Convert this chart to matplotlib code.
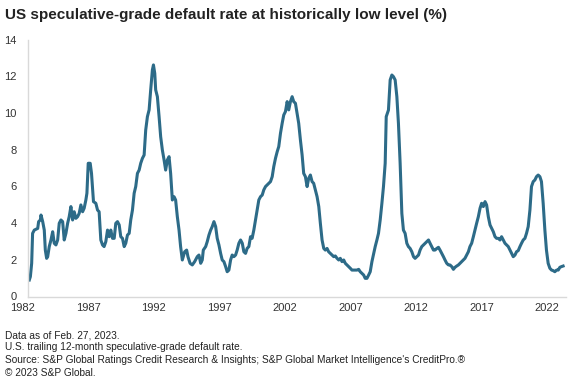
import matplotlib
matplotlib.use("Agg")
import matplotlib.pyplot as plt
from matplotlib.transforms import ScaledTranslation

plt.rcParams['font.family'] = ['Liberation Sans', 'DejaVu Sans']

years = [
    1982.10, 1982.18, 1982.28, 1982.35, 1982.48, 1982.74, 1982.81, 1982.94, 1982.99, 1983.12,
    1983.24, 1983.32, 1983.42, 1983.50, 1983.62, 1983.75, 1983.88, 1984.00, 1984.13, 1984.26,
    1984.38, 1984.51, 1984.64, 1984.76, 1984.89, 1985.02, 1985.14, 1985.27, 1985.40, 1985.52,
    1985.65, 1985.78, 1985.90, 1986.03, 1986.16, 1986.28, 1986.41, 1986.49, 1986.59, 1986.74,
    1986.84, 1986.99, 1987.17, 1987.30, 1987.42, 1987.55, 1987.68, 1987.80, 1987.93, 1988.06,
    1988.19, 1988.31, 1988.44, 1988.57, 1988.69, 1988.82, 1988.95, 1989.07, 1989.20, 1989.33,
    1989.45, 1989.58, 1989.71, 1989.83, 1989.96, 1990.09, 1990.21, 1990.34, 1990.47, 1990.59,
    1990.72, 1990.85, 1990.97, 1991.10, 1991.23, 1991.35, 1991.48, 1991.56, 1991.66, 1991.73,
    1991.86, 1991.99, 1992.11, 1992.24, 1992.37, 1992.49, 1992.62, 1992.75, 1992.87, 1993.00,
    1993.13, 1993.25, 1993.38, 1993.51, 1993.63, 1993.76,
    1993.94, 1994.09, 1994.19, 1994.35, 1994.52, 1994.70, 1994.90, 1995.03, 1995.16, 1995.28,
    1995.36, 1995.54, 1995.66, 1995.79, 1995.92, 1996.04, 1996.17, 1996.30, 1996.42, 1996.55,
    1996.68, 1996.80, 1996.93, 1997.06, 1997.18, 1997.31, 1997.44, 1997.56, 1997.69, 1997.82,
    1997.94, 1998.07, 1998.20, 1998.33, 1998.45, 1998.58, 1998.70, 1998.83, 1998.96, 1999.08,
    1999.21, 1999.34, 1999.47, 1999.59, 1999.72, 1999.85, 1999.97, 2000.10, 2000.23, 2000.35,
    2000.48, 2000.61, 2000.73, 2000.86, 2000.99, 2001.11, 2001.24, 2001.37, 2001.49, 2001.62,
    2001.75, 2001.87, 2002.00, 2002.13, 2002.25, 2002.38, 2002.51, 2002.63, 2002.76, 2002.89,
    2003.01, 2003.14, 2003.27, 2003.39, 2003.52, 2003.65, 2003.77, 2003.90, 2004.03, 2004.16,
    2004.28, 2004.41, 2004.54, 2004.66, 2004.79, 2004.91, 2005.04, 2005.17, 2005.30, 2005.42,
    2005.55, 2005.68, 2005.80, 2005.93, 2006.06, 2006.18, 2006.31, 2006.44, 2006.56, 2006.69,
    2006.82, 2007.07, 2007.20, 2007.32, 2007.45, 2007.58, 2007.70, 2007.83, 2007.96,
    2008.08, 2008.21, 2008.46, 2008.59, 2008.71, 2008.84, 2008.97, 2009.09, 2009.22, 2009.30,
    2009.47, 2009.60, 2009.73, 2009.85, 2009.98, 2010.11, 2010.23, 2010.36, 2010.49, 2010.61,
    2010.74, 2010.87, 2010.99, 2011.12, 2011.25, 2011.38, 2011.50, 2011.63, 2011.76, 2011.88,
    2012.01, 2012.14, 2012.26, 2012.39, 2012.52, 2012.64, 2012.77, 2012.90, 2013.02, 2013.15,
    2013.28, 2013.40, 2013.53, 2013.66, 2013.78, 2013.91, 2014.04, 2014.16, 2014.29, 2014.42,
    2014.54, 2014.67, 2014.80, 2014.92, 2015.05, 2015.18, 2015.30, 2015.43, 2015.56, 2015.68,
    2015.81, 2015.94, 2016.06, 2016.19, 2016.32, 2016.45, 2016.57, 2016.70, 2016.83, 2016.95,
    2017.08, 2017.21, 2017.33, 2017.46, 2017.59, 2017.71, 2017.84, 2017.97, 2018.09, 2018.22,
    2018.35, 2018.47, 2018.60, 2018.73, 2018.85, 2018.98, 2019.11, 2019.23, 2019.36, 2019.49,
    2019.61, 2019.74, 2019.87, 2019.99, 2020.12, 2020.25, 2020.37, 2020.50, 2020.63, 2020.75,
    2020.88, 2021.01, 2021.13, 2021.26, 2021.39, 2021.51, 2021.64, 2021.77, 2021.90, 2022.02,
    2022.15, 2022.28, 2022.41, 2022.53, 2022.66, 2022.78,
]

default_rate = [
    0.90, 1.08, 1.81, 3.44, 3.62, 3.71, 4.08, 4.17, 4.44, 4.08,
    3.62, 2.53, 2.08, 2.17, 2.72, 3.08, 3.53, 2.90, 2.81, 3.08,
    3.99, 4.17, 4.08, 3.08, 3.44, 3.99, 4.35, 4.90, 4.17, 4.62,
    4.26, 4.35, 4.53, 4.99, 4.62, 4.81, 5.26, 5.63, 7.26, 7.26,
    6.71, 5.17, 5.08, 4.71, 4.62, 3.08, 2.81, 2.72, 2.99, 3.62,
    3.26, 3.62, 3.17, 3.17, 3.99, 4.08, 3.90, 3.26, 3.17, 2.72,
    2.90, 3.35, 3.44, 4.17, 4.71, 5.63, 5.99, 6.71, 6.89, 7.26,
    7.53, 7.71, 9.07, 9.80, 10.17, 11.26, 12.35, 12.62, 12.16, 11.26,
    10.89, 9.80, 8.71, 7.98, 7.44, 6.89, 7.44, 7.62, 6.71, 5.26,
    5.44, 5.26, 4.35, 3.62, 2.72, 1.99,
    2.44, 2.53, 2.17, 1.81, 1.72, 1.90, 2.17, 2.26, 1.81, 1.99,
    2.53, 2.72, 2.99, 3.35, 3.62, 3.81, 4.08, 3.81, 3.17, 2.81,
    2.35, 1.99, 1.90, 1.63, 1.35, 1.44, 1.99, 2.26, 2.17, 2.26,
    2.53, 2.90, 3.08, 2.90, 2.44, 2.35, 2.62, 2.72, 3.26, 3.17,
    3.62, 4.17, 4.71, 5.26, 5.44, 5.53, 5.81, 5.99, 6.08, 6.17,
    6.26, 6.53, 7.08, 7.53, 7.89, 8.17, 8.89, 9.44, 9.89, 10.08,
    10.62, 10.17, 10.62, 10.89, 10.62, 10.53, 9.98, 9.44, 8.53, 7.71,
    6.71, 6.53, 5.99, 6.44, 6.62, 6.26, 6.17, 5.81, 5.44, 4.90,
    3.99, 3.08, 2.62, 2.53, 2.62, 2.44, 2.35, 2.26, 2.17, 2.21,
    2.08, 1.99, 2.08, 1.90, 1.99, 1.81, 1.72, 1.63, 1.54, 1.44,
    1.44, 1.44, 1.48, 1.35, 1.26, 1.17, 0.99, 0.99, 1.17,
    1.35, 1.90, 2.72, 3.08, 3.44, 4.17, 5.08, 5.99, 7.26, 9.80,
    10.16, 11.80, 12.07, 11.98, 11.80, 10.89, 9.44, 7.26, 4.53, 3.62,
    3.44, 2.90, 2.72, 2.62, 2.44, 2.17, 2.08, 2.17, 2.26, 2.53,
    2.72, 2.81, 2.90, 2.99, 3.08, 2.90, 2.72, 2.53, 2.53, 2.62,
    2.68, 2.53, 2.35, 2.17, 1.99, 1.81, 1.72, 1.72, 1.63, 1.48,
    1.59, 1.66, 1.72, 1.81, 1.90, 1.99, 2.08, 2.26, 2.44, 2.72,
    2.90, 3.26, 3.62, 3.99, 4.35, 4.81, 5.08, 4.90, 5.17, 4.99,
    4.35, 3.90, 3.72, 3.53, 3.26, 3.17, 3.17, 3.08, 3.26, 3.08,
    2.90, 2.81, 2.72, 2.53, 2.35, 2.17, 2.26, 2.44, 2.50, 2.72,
    2.90, 3.08, 3.17, 3.44, 3.81, 4.71, 5.99, 6.26, 6.35, 6.53,
    6.62, 6.53, 6.26, 5.08, 3.62, 2.53, 1.81, 1.54, 1.44, 1.41,
    1.35, 1.44, 1.44, 1.59, 1.63, 1.66,
]

tick_years = [1982, 1987, 1992, 1997, 2002, 2007, 2012, 2017, 2022]
y_ticks = [0, 2, 4, 6, 8, 10, 12, 14]

title = "US speculative-grade default rate at historically low level (%)"
footnotes = [
    "Data as of Feb. 27, 2023.",
    "U.S. trailing 12-month speculative-grade default rate.",
    "Source: S&P Global Ratings Credit Research & Insights; S&P Global Market Intelligence's CreditPro.\u00ae",
    "\u00a9 2023 S&P Global.",
]

fig = plt.figure(figsize=(5.73, 3.80), dpi=100)
ax = fig.add_axes([28 / 573, 83.5 / 380, (566 - 28) / 573, (296.5 - 39.6) / 380])

ax.plot(years, default_rate, color='#2d6b88', linewidth=2.2, solid_joinstyle='round')

ax.set_xlim(1982, 2023)
ax.set_ylim(0, 14)
ax.set_yticks(y_ticks)
ax.set_xticks(tick_years)
ax.set_xticklabels([str(y) for y in tick_years])

for s in ['top', 'right']:
    ax.spines[s].set_visible(False)
for s in ['left', 'bottom']:
    ax.spines[s].set_color('#d9d9d9')
    ax.spines[s].set_linewidth(1.0)

ax.tick_params(axis='both', length=0, labelsize=8, colors='#333333')
ax.tick_params(axis='y', pad=8)
ax.tick_params(axis='x', pad=5)
offset = ScaledTranslation(-4 / 72, 0, fig.dpi_scale_trans)
for lab in ax.get_xticklabels():
    lab.set_transform(lab.get_transform() + offset)

fig.text(5 / 573, 1 - 15 / 380, title, fontsize=11, fontweight='bold',
         color='#222222', ha='left', va='center')

y0 = 335
for i, line in enumerate(footnotes):
    fig.text(5 / 573, 1 - (y0 + i * 12.5) / 380, line, fontsize=7.3,
             color='#222222', ha='left', va='center')

fig.savefig('out.png', dpi=100)
